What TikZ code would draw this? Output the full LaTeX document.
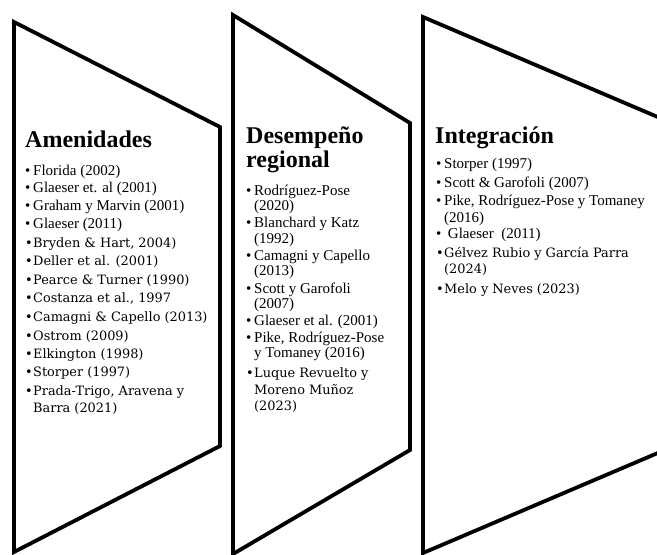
\documentclass[tikz,border=0pt]{standalone}
\usepackage{fontspec}
\setmainfont{Liberation Serif}
\newfontfamily\cambria{DejaVu Serif}[Scale=0.86]
\usetikzlibrary{positioning}
\newcommand{\bul}{\makebox[8pt][l]{\textbullet}}

\begin{document}
\begin{tikzpicture}[x=1pt,y=-1pt]
		\tikzstyle{Chevron}	= [draw, line width=3.8pt, line join=miter]
		\tikzstyle{Heading}	= [anchor=base west, inner sep=0pt, font=\fontsize{24}{24}\selectfont\bfseries]
		\tikzstyle{Item}	= [anchor=base west, inner sep=0pt, font=\fontsize{15}{16}\selectfont]
		\tikzstyle{CItem}	= [anchor=base west, inner sep=0pt, font=\fontsize{15}{16}\selectfont\cambria]
		
		\clip (0,0) rectangle (657,555);
		
		% the three chevrons
		\draw [Chevron] (14,22) -- (220,127) -- (220,446) -- (14,552) -- cycle;
		\draw [Chevron] (233,15) -- (410,123) -- (410,450) -- (233,554) -- cycle;
		\draw [Chevron] (423,17) -- (700,135) -- (700,435) -- (423,553) -- cycle;
		
		% Amenidades
		\node (h1) at (25,147) [Heading] {Amenidades};
		\node (a1) at (25,175) [Item] {\bul Florida (2002)};
		\node (a2) at (25,192) [Item] {\bul Glaeser et. al (2001)};
		\node (a3) at (25,210) [Item] {\bul Graham y Marvin (2001)};
		\node (a4) at (25,228) [Item] {\bul Glaeser (2011)};
		\node (a5) at (25,247) [CItem] {\bul Bryden \& Hart, 2004)};
		\node (a6) at (25,265) [CItem] {\bul Deller et al. (2001)};
		\node (a7) at (25,284) [CItem] {\bul Pearce \& Turner (1990)};
		\node (a8) at (25,302) [CItem] {\bul Costanza et al., 1997};
		\node (a9) at (25,321) [CItem] {\bul Camagni \& Capello (2013)};
		\node (a10) at (25,340) [CItem] {\bul Ostrom (2009)};
		\node (a11) at (25,358) [CItem] {\bul Elkington (1998)};
		\node (a12) at (25,376) [CItem] {\bul Storper (1997)};
		\node (a13) at (25,395) [CItem] {\bul Prada-Trigo, Aravena y};
		\node (a13b) at (33,412) [CItem] {Barra (2021)};
		
		% Desempeno regional
		\node (h2) at (246,143) [Heading] {Desempeño};
		\node (h2b) at (246,167) [Heading] {regional};
		\node (d1) at (246,195) [Item] {\bul Rodríguez-Pose};
		\node (d1b) at (254,210) [Item] {(2020)};
		\node (d2) at (246,227) [Item] {\bul Blanchard y Katz};
		\node (d2b) at (254,243) [Item] {(1992)};
		\node (d3) at (246,260) [Item] {\bul Camagni y Capello};
		\node (d3b) at (254,275) [Item] {(2013)};
		\node (d4) at (246,293) [Item] {\bul Scott y Garofoli};
		\node (d4b) at (254,308) [Item] {(2007)};
		\node (d5) at (246,325) [Item] {\bul Glaeser et al. (2001)};
		\node (d6) at (246,342) [Item] {\bul Pike, Rodríguez-Pose};
		\node (d6b) at (254,357) [Item] {y Tomaney (2016)};
		\node (d7) at (246,377) [CItem] {\bul Luque Revuelto y};
		\node (d7b) at (254,394) [CItem] {Moreno Muñoz};
		\node (d7c) at (254,410) [CItem] {(2023)};
		
		% Integracion
		\node (h3) at (435,143) [Heading] {Integración};
		\node (i1) at (436,168) [Item] {\bul Storper (1997)};
		\node (i2) at (436,187) [Item] {\bul Scott \& Garofoli (2007)};
		\node (i3) at (436,205) [Item] {\bul Pike, Rodríguez-Pose y Tomaney};
		\node (i3b) at (444,222) [Item] {(2016)};
		\node (i4) at (436,238) [Item] {\bul\ Glaeser\ \ (2011)};
		\node (i5) at (436,257) [CItem] {\bul Gélvez Rubio y García Parra};
		\node (i5b) at (444,273) [CItem] {(2024)};
		\node (i6) at (436,293) [CItem] {\bul Melo y Neves (2023)};
	\end{tikzpicture}
\end{document}
